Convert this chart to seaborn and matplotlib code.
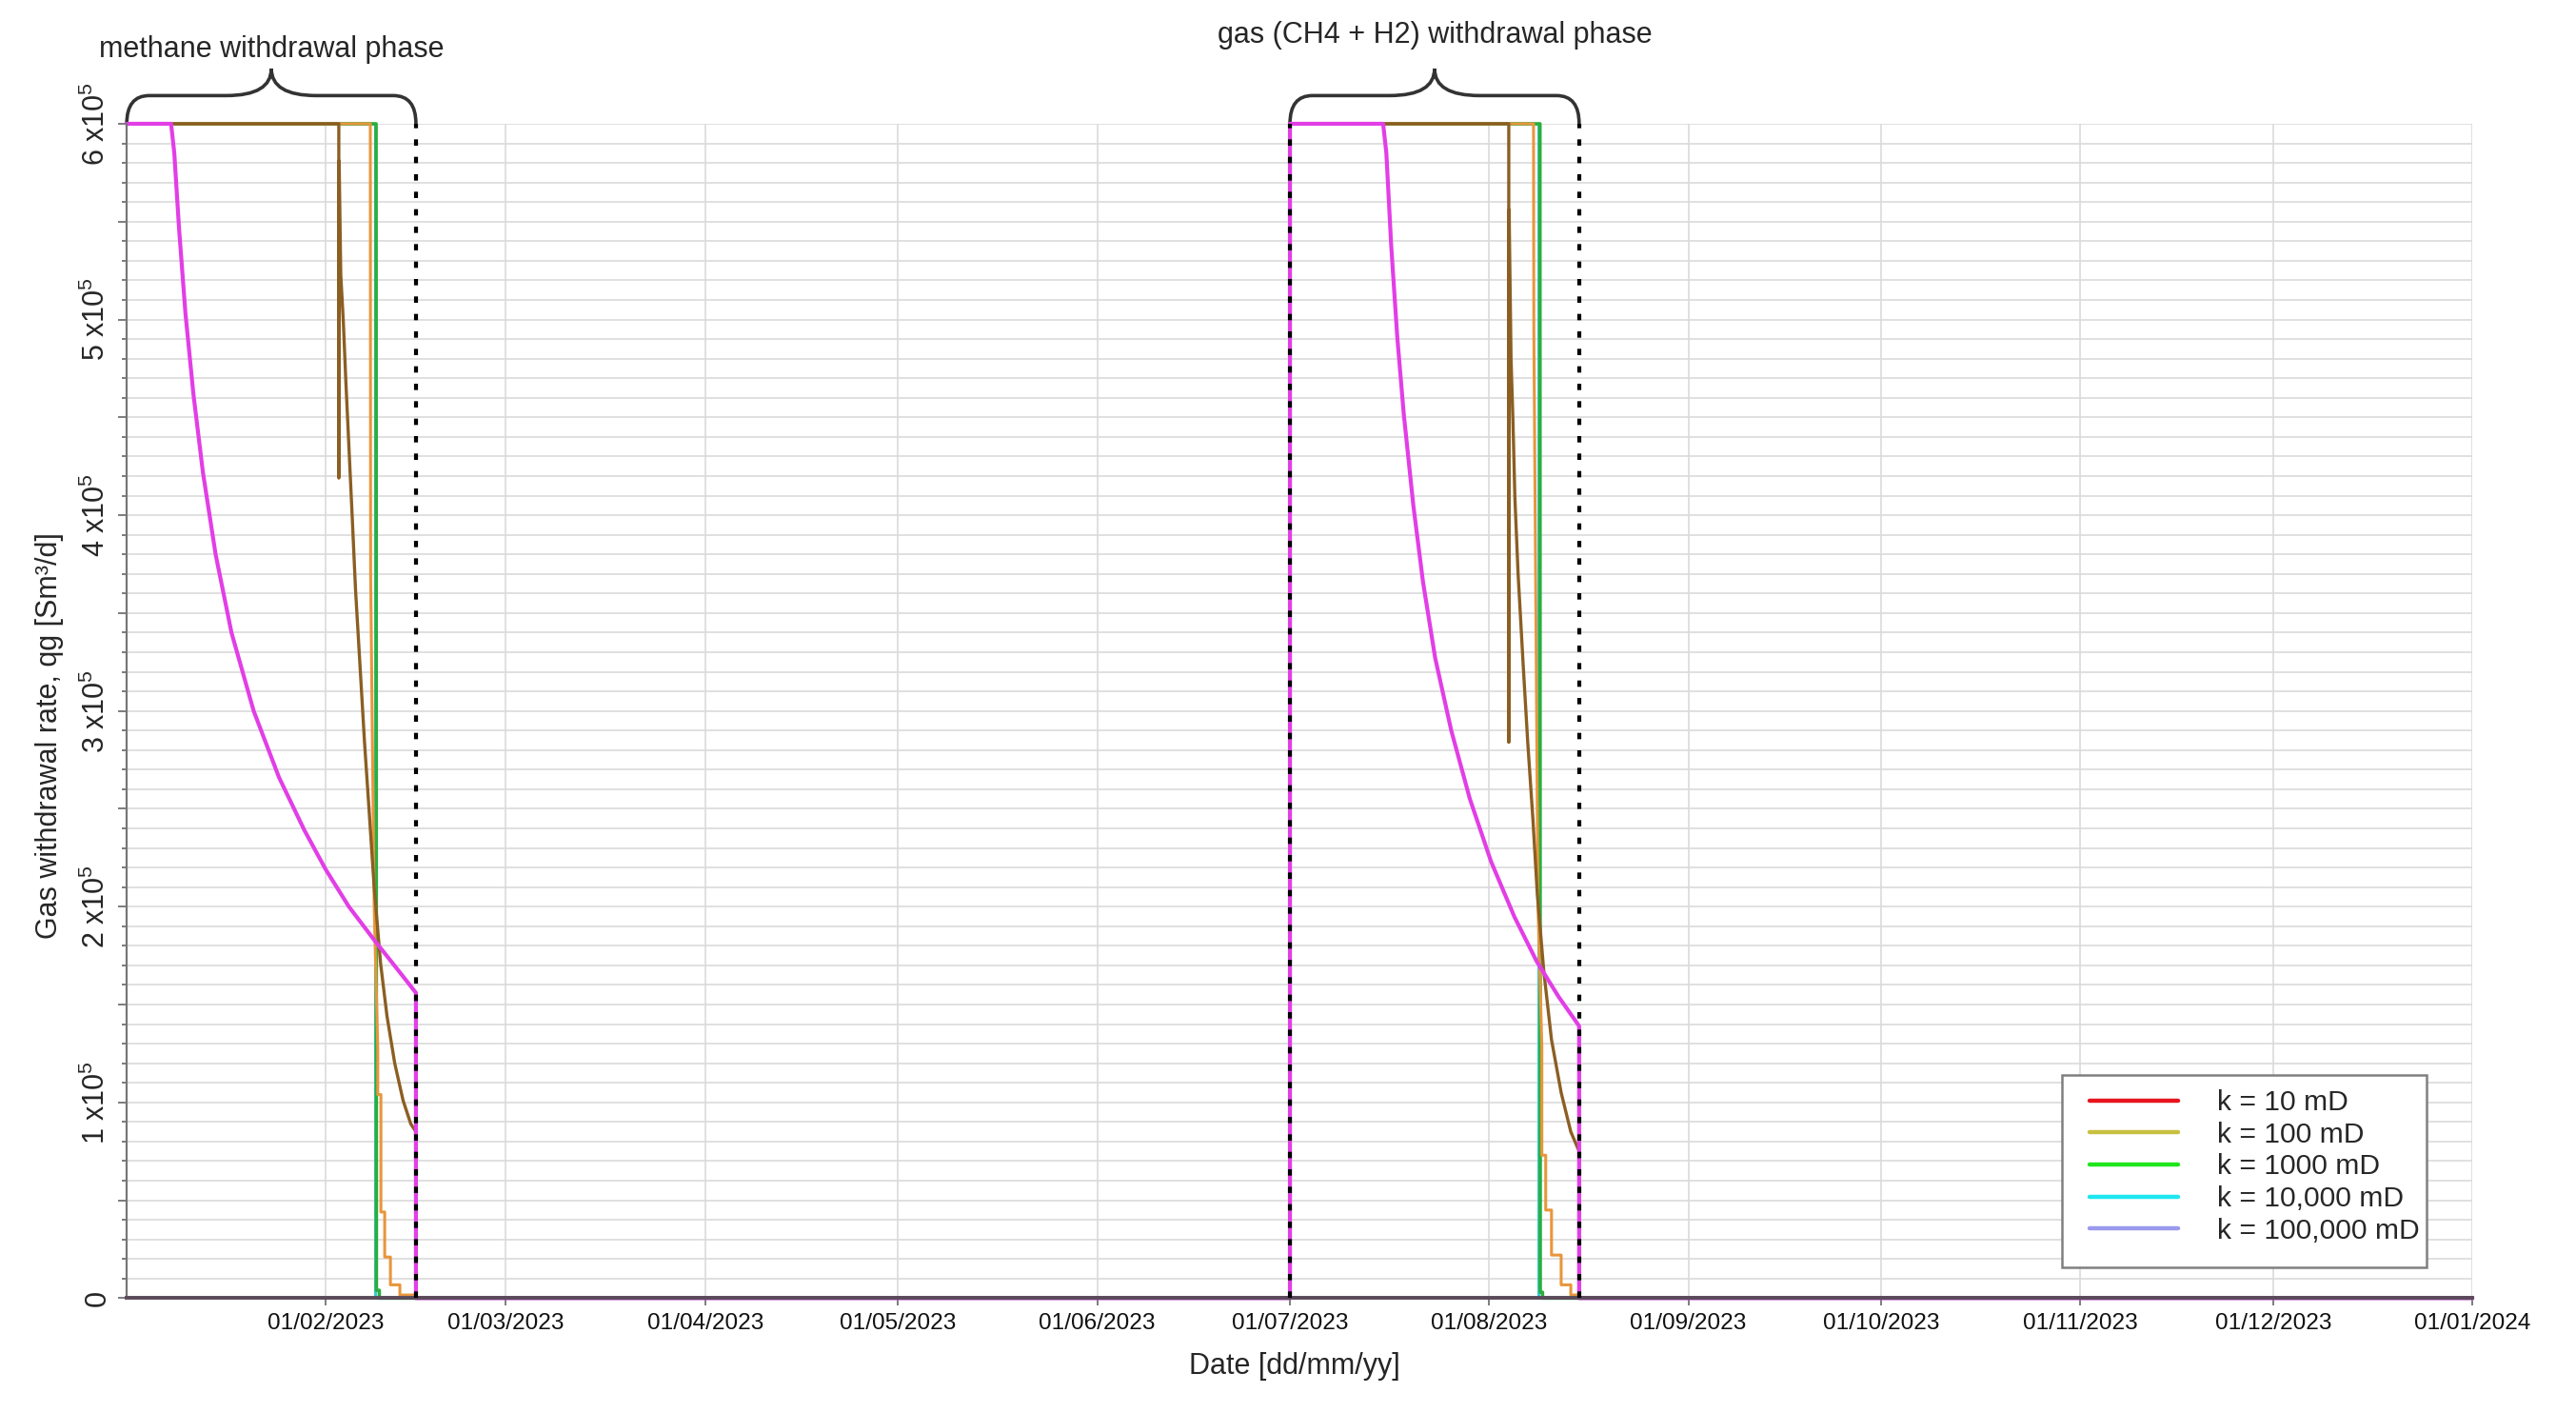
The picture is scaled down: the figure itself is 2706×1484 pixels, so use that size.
import pandas as pd
import seaborn as sns
import matplotlib.pyplot as plt
import matplotlib.dates as mdates
from matplotlib.lines import Line2D
from matplotlib.path import Path
from matplotlib.patches import PathPatch, Rectangle
from matplotlib.ticker import MultipleLocator, FuncFormatter
from matplotlib.transforms import blended_transform_factory

start = pd.Timestamp("2023-01-01")
end = pd.Timestamp("2024-01-01")

# jours depuis le 01/01/2023 et debit de soutirage [Sm3/d]
days_magenta = [0, 6.9, 7.4, 8.15, 9.14, 10.37, 11.85, 13.83, 16.3, 19.75, 23.7, 27.65, 30.96,
                34.57, 38.5, 42.0, 45.0, 45.0, 181.0, 181.0, 195.5, 196.0, 196.75, 197.7, 198.7,
                200.2, 201.7, 203.6, 206.1, 209.0, 212.3, 215.9, 219.4, 222.8, 226.0, 226.0, 365.0]
rate_magenta = [600000, 600000, 585000, 546000, 503000, 462000, 422000, 380000, 340000, 300000,
                266000, 239000, 219000, 200000, 183000, 168500, 156000, 0, 0, 600000, 600000,
                585000, 538000, 491000, 452000, 405000, 366000, 327000, 290000, 255000, 223000,
                195000, 172000, 154000, 139000, 0, 0]

days_brown = [0, 33.0, 33.0, 33.05, 33.3, 33.7, 34.1, 34.6, 35.1, 35.6, 36.3, 37.0, 37.8, 38.5,
              39.5, 40.5, 41.7, 43.0, 44.2, 45.0, 45.0, 181.0, 181.0, 215.05, 215.05, 215.1,
              215.4, 215.7, 216.0, 216.5, 217.3, 218.0, 218.8, 219.5, 220.5, 221.7, 223.2,
              224.7, 226.0, 226.0, 365.0]
rate_brown = [600000, 600000, 419000, 581000, 523000, 499000, 468000, 433000, 398000, 362000,
              323000, 284000, 245000, 210000, 171000, 144000, 120000, 101000, 89000, 85000, 0,
              0, 600000, 600000, 284000, 556000, 480000, 448000, 409000, 370000, 323000,
              284000, 245000, 206000, 167000, 132000, 105000, 85000, 75000, 0, 0]

days_orange = [0, 37.9, 37.95, 38.5, 39.06, 39.06, 39.55, 39.55, 40.14, 40.14, 41.03, 41.03,
               42.5, 42.5, 45.0, 45.0, 181.0, 181.0, 218.9, 218.95, 219.6, 220.2, 220.2, 220.8,
               220.8, 221.7, 221.7, 223.2, 223.2, 224.7, 224.7, 226.0, 226.0, 365.0]
rate_orange = [600000, 600000, 370000, 200000, 128000, 104000, 104000, 44000, 44000, 21000,
               21000, 6800, 6800, 1600, 1600, 0, 0, 600000, 600000, 495000, 200000, 128000,
               73000, 73000, 45000, 45000, 22000, 22000, 6800, 6800, 1600, 1600, 0, 0]

days_green = [0, 38.8, 38.85, 39.3, 39.3, 181.0, 181.0, 219.9, 219.95, 220.3, 220.3, 365.0]
rate_green = [600000, 600000, 4000, 4000, 0, 0, 600000, 600000, 3000, 3000, 0, 0]

days_cyan = [0, 38.7, 38.7, 181.0, 181.0, 219.7, 219.7, 365.0]
rate_cyan = [600000, 600000, 0, 0, 600000, 600000, 0, 0]

# legende telle qu'elle apparait sur la figure
legend_labels = ["k = 10 mD", "k = 100 mD", "k = 1000 mD", "k = 10,000 mD", "k = 100,000 mD"]
legend_colors = ["#e8141e", "#c8c040", "#1ee61e", "#1ee6f0", "#9a9aee"]

# limites des phases de soutirage (jours)
phase_bounds = [45, 181, 226]
phases = [(0, 45, "methane withdrawal phase", 1.0564),
          (181, 226, "gas (CH4 + H2) withdrawal phase", 1.0686)]

series = {
    "cyan": (days_cyan, rate_cyan, "#3cc8d8", 1.1),
    "green": (days_green, rate_green, "#2aae3e", 1.3),
    "orange": (days_orange, rate_orange, "#e8963c", 1.1),
    "brown": (days_brown, rate_brown, "#8b5e22", 1.2),
    "magenta": (days_magenta, rate_magenta, "#e23ee6", 1.5),
}

frames = []
for name, (d, r, c, w) in series.items():
    frames.append(pd.DataFrame({"serie": name,
                                "date": start + pd.to_timedelta(d, unit="D"),
                                "rate": r}))
df = pd.concat(frames, ignore_index=True)

sns.set_theme(style="white")
plt.rcParams['font.family'] = ['Liberation Sans', 'DejaVu Sans']
plt.rcParams['mathtext.fontset'] = 'custom'
plt.rcParams['mathtext.rm'] = 'Liberation Sans'
plt.rcParams['mathtext.default'] = 'regular'

fig = plt.figure(figsize=(13.53, 7.42), dpi=200)
ax = fig.add_axes([0.0492, 0.0813, 0.9106, 0.8311])

z = 2.0
for name, (d, r, c, w) in series.items():
    sns.lineplot(data=df[df["serie"] == name], x="date", y="rate", color=c, linewidth=w,
                 estimator=None, sort=False, ax=ax, zorder=z, clip_on=False)
    z += 0.08

for b in phase_bounds:
    ax.axvline(start + pd.Timedelta(days=b), ymin=0, ymax=1, color="black", lw=1.5,
               linestyle=(0, (1.6, 2.8)), zorder=3, clip_on=False)

ax.set_xlim(start, end)
ax.set_ylim(0, 600000)

# axes
ax.yaxis.set_major_locator(MultipleLocator(50000))
ax.yaxis.set_minor_locator(MultipleLocator(10000))


def fmt(v, pos):
    if abs(v) < 1:
        return "0"
    if round(v) % 100000 == 0:
        return "%d x10$^5$" % round(v / 100000)
    return ""


ax.yaxis.set_major_formatter(FuncFormatter(fmt))
tick_dates = pd.date_range("2023-02-01", "2024-01-01", freq="MS")
ax.set_xticks(tick_dates)
ax.set_xticklabels([t.strftime("%d/%m/%Y") for t in tick_dates], fontsize=8.8,
                   color="#111111")

ax.grid(which="major", axis="x", color="#dadada", lw=0.6)
ax.grid(which="both", axis="y", color="#dadada", lw=0.6)
ax.set_axisbelow(True)

ax.tick_params(axis="y", which="major", length=3.2, width=0.6, color="#666666", pad=2.5,
               labelsize=11, labelrotation=90, left=True)
ax.tick_params(axis="y", which="minor", length=1.8, width=0.6, color="#666666", left=True)
ax.tick_params(axis="x", which="major", length=3.0, width=0.6, color="#666666", pad=2.5,
               bottom=True)
for lbl in ax.get_yticklabels():
    lbl.set_va("center")

for s in ["top", "right"]:
    ax.spines[s].set_visible(False)
ax.spines["left"].set_color("#777777")
ax.spines["left"].set_linewidth(0.8)
ax.spines["bottom"].set_color("#5a4a5a")
ax.spines["bottom"].set_linewidth(1.4)
ax.spines["bottom"].set_zorder(2.9)

ax.set_ylabel("Gas withdrawal rate, qg [Sm³/d]", fontsize=11)
ax.yaxis.set_label_coords(-0.027, 0.479)
ax.set_xlabel("Date [dd/mm/yy]", fontsize=11)
ax.xaxis.set_label_coords(0.498, -0.046)

# accolades des phases
blend = blended_transform_factory(ax.transData, ax.transAxes)


def dnum(v):
    return mdates.date2num(start + pd.Timedelta(days=v))


for x0, x1, txt, ytxt in phases:
    xm = (x0 + x1) / 2
    r, s = 3.5, 7.0
    yb, yf, yt = 1.0, 1.024, 1.047
    verts = [(dnum(x0), yb), (dnum(x0), yf), (dnum(x0 + r), yf),
             (dnum(xm - s), yf), (dnum(xm), yf), (dnum(xm), yt),
             (dnum(xm), yf), (dnum(xm + s), yf),
             (dnum(x1 - r), yf), (dnum(x1), yf), (dnum(x1), yb)]
    codes = [Path.MOVETO, Path.CURVE3, Path.CURVE3, Path.LINETO, Path.CURVE3, Path.CURVE3,
             Path.CURVE3, Path.CURVE3, Path.LINETO, Path.CURVE3, Path.CURVE3]
    ax.add_patch(PathPatch(Path(verts, codes), transform=blend, fill=False, lw=1.3,
                           edgecolor="#333333", clip_on=False))
    ax.text(dnum(xm), ytxt, txt, transform=blend, ha="center", va="baseline", fontsize=11)

# cadre de legende puis legende sans cadre
ax.add_patch(Rectangle((0.825, 0.0266), 0.1555, 0.1634, transform=ax.transAxes,
                       facecolor="white", edgecolor="#808080", lw=0.9, zorder=4.9,
                       clip_on=False))
handles = [Line2D([0], [0], color=c, lw=1.6) for c in legend_colors]
leg = ax.legend(handles, legend_labels, loc="upper left", bbox_to_anchor=(0.8369, 0.1778),
                frameon=False, borderaxespad=0, borderpad=0,
                fontsize=10.8, handlelength=3.1, handletextpad=1.35, labelspacing=0.19)
leg.set_zorder(5)

fig.savefig("out.png", dpi=200)
